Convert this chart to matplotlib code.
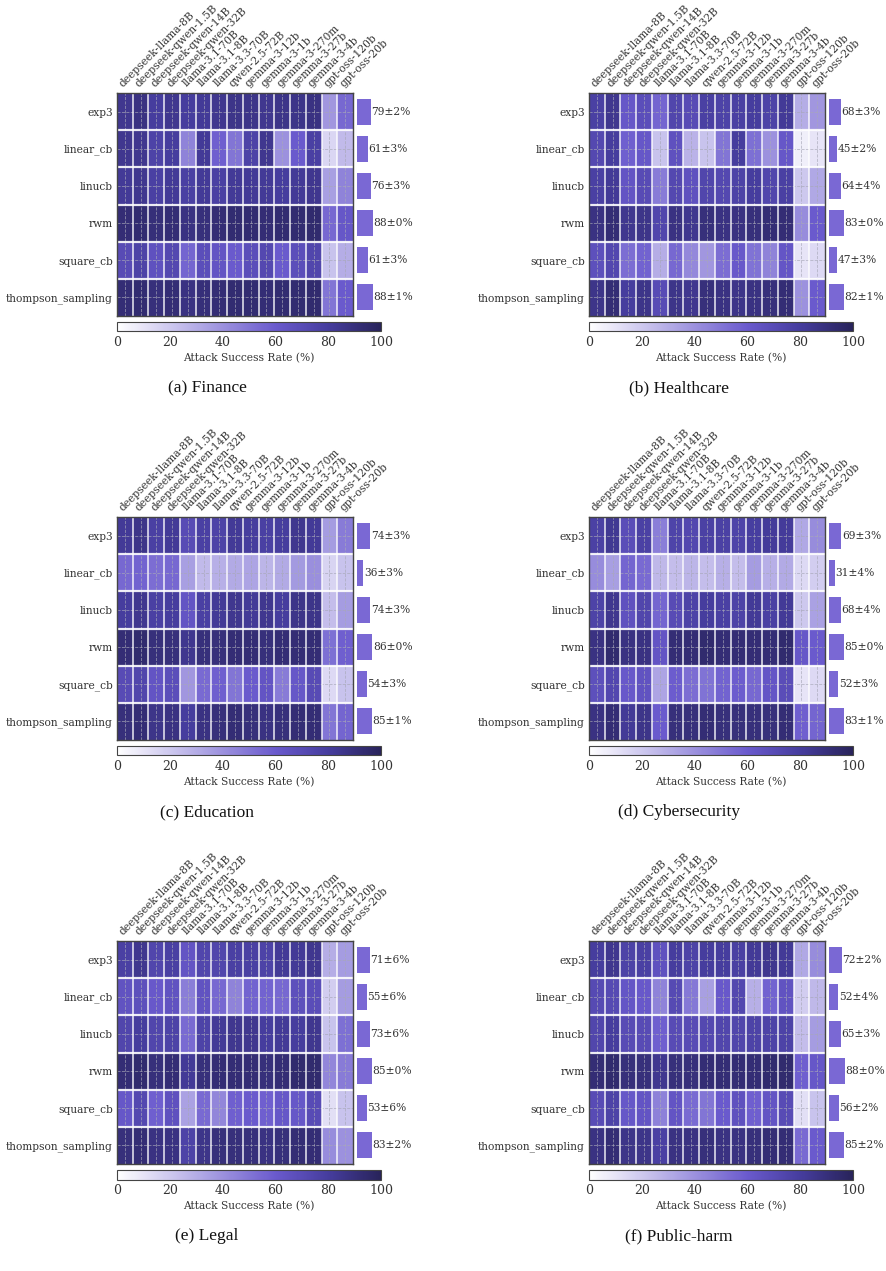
import numpy as np
import matplotlib
matplotlib.use("Agg")
import matplotlib.pyplot as plt
from matplotlib.colors import LinearSegmentedColormap

# modelos (columnas) y algoritmos (filas)
models = ["deepseek-llama-8B", "deepseek-qwen-1.5B", "deepseek-qwen-14B", "deepseek-qwen-32B",
          "llama-3.1-70B", "llama-3.1-8B", "llama-3.3-70B", "qwen-2.5-72B",
          "gemma-3-12b", "gemma-3-1b", "gemma-3-270m", "gemma-3-27b", "gemma-3-4b",
          "gpt-oss-120b", "gpt-oss-20b"]
algos = ["exp3", "linear_cb", "linucb", "rwm", "square_cb", "thompson_sampling"]

# ASR (%) por dominio, filas = algos, columnas = models
finance = [
    [84, 88, 80, 84, 80, 82, 84, 86, 86, 84, 86, 86, 88, 38, 55],
    [84, 84, 76, 80, 45, 82, 58, 50, 76, 84, 40, 60, 78, 15, 25],
    [82, 84, 78, 82, 78, 82, 78, 82, 82, 82, 80, 82, 84, 35, 45],
    [92, 93, 91, 92, 88, 90, 92, 93, 93, 92, 93, 93, 94, 55, 62],
    [70, 76, 66, 72, 56, 68, 64, 60, 68, 72, 60, 68, 74, 22, 30],
    [92, 93, 90, 92, 88, 91, 92, 93, 93, 92, 93, 93, 94, 50, 60],
]
healthcare = [
    [78, 84, 62, 68, 56, 74, 70, 78, 76, 78, 80, 76, 82, 30, 38],
    [72, 80, 58, 62, 22, 66, 28, 22, 50, 80, 52, 40, 62, 6, 10],
    [78, 82, 64, 70, 48, 72, 66, 74, 72, 76, 80, 74, 78, 20, 32],
    [88, 92, 84, 86, 74, 88, 84, 90, 88, 88, 90, 92, 92, 42, 60],
    [67, 73, 53, 57, 30, 55, 43, 38, 53, 61, 51, 45, 63, 10, 14],
    [86, 92, 80, 86, 70, 86, 84, 90, 88, 86, 88, 90, 92, 40, 60],
]
education = [
    [82, 86, 78, 82, 70, 78, 76, 82, 80, 78, 80, 84, 82, 36, 48],
    [55, 57, 53, 55, 35, 25, 29, 31, 33, 27, 31, 37, 41, 16, 22],
    [80, 84, 78, 80, 64, 78, 82, 84, 82, 84, 80, 86, 86, 24, 36],
    [92, 94, 90, 90, 84, 90, 90, 92, 92, 90, 92, 92, 92, 52, 58],
    [70, 74, 64, 68, 38, 54, 58, 50, 60, 64, 48, 62, 70, 14, 22],
    [90, 92, 86, 88, 80, 88, 90, 92, 90, 88, 90, 92, 92, 50, 56],
]
cyber = [
    [77, 83, 69, 77, 47, 75, 73, 77, 77, 75, 79, 81, 81, 32, 42],
    [42, 35, 56, 54, 26, 24, 27, 24, 29, 24, 36, 29, 31, 14, 18],
    [76, 84, 66, 74, 56, 70, 76, 80, 78, 76, 82, 78, 82, 20, 34],
    [88, 94, 88, 88, 64, 92, 92, 94, 92, 92, 92, 92, 94, 62, 60],
    [67, 73, 61, 65, 33, 59, 53, 51, 57, 59, 55, 63, 69, 10, 14],
    [88, 92, 82, 86, 60, 90, 90, 92, 90, 90, 90, 90, 92, 58, 56],
]
legal = [
    [78, 84, 74, 78, 64, 74, 74, 78, 78, 76, 82, 82, 84, 30, 36],
    [65, 67, 61, 65, 47, 65, 55, 45, 57, 57, 55, 67, 69, 18, 36],
    [74, 80, 74, 76, 54, 76, 82, 84, 84, 80, 82, 80, 84, 22, 52],
    [92, 94, 90, 92, 82, 90, 92, 92, 92, 90, 92, 94, 94, 44, 48],
    [62, 72, 58, 66, 34, 54, 44, 58, 60, 58, 62, 62, 70, 12, 22],
    [90, 92, 88, 88, 76, 86, 90, 90, 90, 88, 90, 92, 92, 42, 40],
]
public_harm = [
    [80, 84, 76, 78, 66, 80, 76, 80, 80, 78, 82, 84, 82, 32, 42],
    [71, 71, 63, 61, 45, 71, 49, 35, 61, 73, 29, 57, 65, 18, 26],
    [74, 80, 70, 70, 58, 70, 70, 72, 74, 74, 76, 76, 76, 24, 36],
    [92, 94, 90, 90, 84, 90, 90, 92, 92, 92, 92, 94, 94, 58, 62],
    [70, 76, 62, 64, 46, 64, 54, 50, 60, 66, 58, 64, 70, 12, 22],
    [88, 92, 86, 86, 78, 88, 88, 90, 88, 88, 90, 92, 92, 54, 60],
]

# medias y desviaciones que aparecen en las barras laterales
finance_mean = [79, 61, 76, 88, 61, 88]
finance_std = [2, 3, 3, 0, 3, 1]
healthcare_mean = [68, 45, 64, 83, 47, 82]
healthcare_std = [3, 2, 4, 0, 3, 1]
education_mean = [74, 36, 74, 86, 54, 85]
education_std = [3, 3, 3, 0, 3, 1]
cyber_mean = [69, 31, 68, 85, 52, 83]
cyber_std = [3, 4, 4, 0, 3, 1]
legal_mean = [71, 55, 73, 85, 53, 83]
legal_std = [6, 6, 6, 0, 6, 2]
public_harm_mean = [72, 52, 65, 88, 56, 85]
public_harm_std = [2, 4, 3, 0, 2, 2]

captions = ["(a) Finance", "(b) Healthcare", "(c) Education",
            "(d) Cybersecurity", "(e) Legal", "(f) Public-harm"]
panels = [(finance, finance_mean, finance_std),
          (healthcare, healthcare_mean, healthcare_std),
          (education, education_mean, education_std),
          (cyber, cyber_mean, cyber_std),
          (legal, legal_mean, legal_std),
          (public_harm, public_harm_mean, public_harm_std)]

cmap = LinearSegmentedColormap.from_list(
    "asr", [(0.0, "#ffffff"), (0.6, "#6a5acd"), (0.8, "#463d9e"), (1.0, "#28235a")])

W, H = 886, 1271
fig = plt.figure(figsize=(W / 100, H / 100), dpi=100)

lab_font = dict(family="DejaVu Serif", fontsize=7.7, color="#333333")

for k, (vals, means, stds) in enumerate(panels):
    col = k % 2
    row = k // 2
    x0 = 117 + 472 * col
    y0 = 93 + 424 * row  # borde superior del heatmap (px)

    # heatmap
    ax = fig.add_axes([x0 / W, 1 - (y0 + 223) / H, 236 / W, 223 / H])
    data = np.array(vals, dtype=float)
    nr, nc = data.shape
    mesh = ax.pcolormesh(np.arange(nc + 1), np.arange(nr + 1), data, cmap=cmap,
                         vmin=0, vmax=100)
    # lineas blancas entre celdas
    for xv in range(1, nc):
        ax.axvline(xv, color="white", lw=1.1, alpha=0.9)
    for yv in range(1, nr):
        ax.axhline(yv, color="white", lw=1.6, alpha=0.9)
    ax.set_xlim(0, nc)
    ax.set_ylim(nr, 0)
    ax.set_xticks(np.arange(nc) + 0.5)
    ax.set_yticks(np.arange(nr) + 0.5)
    ax.xaxis.tick_top()
    ax.set_xticklabels(models, rotation=45, ha="left", rotation_mode="anchor", **lab_font)
    ax.set_yticklabels(algos, **lab_font)
    ax.tick_params(length=0, pad=3)
    ax.grid(True, color="#a8a8b8", ls="--", lw=0.6, alpha=0.75)
    for s in ax.spines.values():
        s.set_color("#444444")
        s.set_linewidth(1.0)

    # barras con la media
    bx = fig.add_axes([(x0 + 240) / W, 1 - (y0 + 223) / H, 18 / W, 223 / H])
    bx.barh(np.arange(nr) + 0.5, means, height=0.7, color="#7a68d4")
    for i in range(nr):
        bx.text(means[i] + 2, i + 0.5, f"{means[i]}±{stds[i]}%", va="center",
                ha="left", clip_on=False, **lab_font)
    bx.set_xlim(0, 100)
    bx.set_ylim(nr, 0)
    bx.axis("off")

    # barra de color
    cax = fig.add_axes([x0 / W, 1 - (y0 + 238.5) / H, 264 / W, 9.5 / H])
    cb = fig.colorbar(mesh, cax=cax, orientation="horizontal")
    cb.set_ticks([0, 20, 40, 60, 80, 100])
    cb.ax.tick_params(labelsize=9, length=0, pad=3, labelcolor="#333333")
    for t in cb.ax.get_xticklabels():
        t.set_family("DejaVu Serif")
    cb.set_label("Attack Success Rate (%)", labelpad=3, **lab_font)
    cb.outline.set_edgecolor("#444444")
    cb.outline.set_linewidth(0.8)

    # titulo del subpanel
    fig.text((207 + 472 * col) / W, 1 - (388 + 424 * row) / H, captions[k],
             ha="center", va="center", family="Liberation Serif", fontsize=12.5,
             color="#111111")

fig.savefig("out.png", dpi=100)
